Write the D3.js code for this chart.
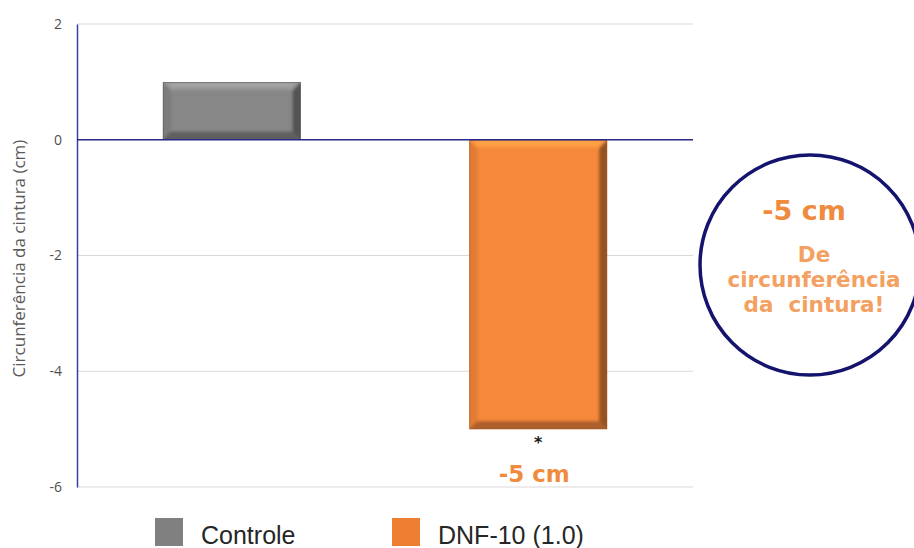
<!DOCTYPE html>
<html><head><meta charset="utf-8">
<script src="https://cdn.jsdelivr.net/npm/d3@7"></script>
<style>
body{margin:0;background:#fff;}
svg{display:block;}
</style></head>
<body>
<svg id="chart" width="914" height="548"></svg>
<script>
// Waist circumference change by group
const categories = ["Controle", "DNF-10 (1.0)"];
const values = [1, -5];
const yTicks = [2, 0, -2, -4, -6];
const barColors = ["#878787", "#f5883a"];
const legendColors = ["#808080", "#ed7d31"];
const calloutLines = ["De", "circunferência", "da  cintura!"];

const svg = d3.select("#chart");
const margin = {left: 77, right: 221, top: 24, bottom: 61};
const W = 914, H = 548;

const x = d3.scaleBand().domain(categories).range([margin.left, W - margin.right]).paddingInner(0.55).paddingOuter(0.28);
const y = d3.scaleLinear().domain([-6, 2]).range([H - margin.bottom, margin.top]);

const defs = svg.append("defs");
defs.append("filter").attr("id", "soft").attr("x", "-10%").attr("y", "-10%").attr("width", "120%").attr("height", "120%")
  .append("feGaussianBlur").attr("stdDeviation", 1.6);

// gridlines
svg.append("g").selectAll("line").data(yTicks).join("line")
  .attr("x1", margin.left).attr("x2", W - margin.right)
  .attr("y1", d => y(d)).attr("y2", d => y(d))
  .attr("stroke", "#d9d9d9").attr("stroke-width", 1);

// y axis
const yAxis = d3.axisLeft(y).tickValues(yTicks).tickSize(0).tickPadding(15).tickFormat(d => String(d));
const ga = svg.append("g").attr("transform", `translate(${margin.left},0)`).call(yAxis);
ga.select(".domain").attr("stroke", "#3c3c9c").attr("stroke-width", 1.5);
ga.selectAll("text").attr("fill", "#505050").style("font-family", "'Open Sans', sans-serif").style("font-size", "14px");

svg.append("text")
  .attr("transform", `translate(25,${(y(2) + y(-6)) / 2 + 3}) rotate(-90)`)
  .attr("text-anchor", "middle")
  .attr("fill", "#595959")
  .style("font-family", "'Open Sans', sans-serif").style("font-size", "17px")
  .text("Circunferência da cintura (cm)");

// beveled bars
const bars = svg.append("g");
categories.forEach((cat, i) => {
  const v = values[i];
  const x0 = x(cat), x1 = x0 + x.bandwidth();
  const y0 = y(Math.max(0, v)), y1 = y(Math.min(0, v));
  const b = 8;
  const c = d3.color(barColors[i]);
  const clipId = "clip" + i;
  defs.append("clipPath").attr("id", clipId)
    .append("rect").attr("x", x0).attr("y", y0).attr("width", x1 - x0).attr("height", y1 - y0);
  const g = bars.append("g").attr("clip-path", `url(#${clipId})`);
  g.append("rect").attr("x", x0).attr("y", y0).attr("width", x1 - x0).attr("height", y1 - y0).attr("fill", c.formatHex());
  const bev = g.append("g").attr("filter", "url(#soft)");
  // top bevel
  bev.append("polygon").attr("points", [[x0-4,y0-4],[x1+4,y0-4],[x1-b,y0+b],[x0+b,y0+b]].join(" "))
    .attr("fill", c.brighter(0.35).formatHex());
  // left bevel
  bev.append("polygon").attr("points", [[x0-4,y0-4],[x0+b,y0+b],[x0+b,y1-b],[x0-4,y1+4]].join(" "))
    .attr("fill", c.darker(0.25).formatHex());
  // right bevel
  bev.append("polygon").attr("points", [[x1+4,y0-4],[x1+4,y1+4],[x1-b,y1-b],[x1-b,y0+b]].join(" "))
    .attr("fill", c.darker(1.4).formatHex());
  // bottom bevel
  bev.append("polygon").attr("points", [[x0-4,y1+4],[x1+4,y1+4],[x1-b,y1-b],[x0+b,y1-b]].join(" "))
    .attr("fill", c.darker(1.0).formatHex());
  // thin highlight just inside the top bevel
  bev.append("line").attr("x1", x0 + b).attr("x2", x1 - b).attr("y1", y0 + 3).attr("y2", y0 + 3)
    .attr("stroke", c.brighter(0.7).formatHex()).attr("stroke-width", 2);
  g.append("rect").attr("x", x0 + 0.5).attr("y", y0 + 0.5).attr("width", x1 - x0 - 1).attr("height", y1 - y0 - 1)
    .attr("fill", "none").attr("stroke", c.darker(1.2).formatHex()).attr("stroke-width", 1).attr("opacity", 0.6);
});

// zero line
svg.append("line").attr("x1", margin.left).attr("x2", W - margin.right)
  .attr("y1", y(0)).attr("y2", y(0)).attr("stroke", "#2a2a8a").attr("stroke-width", 1.5);

// annotations under the second bar
const cx2 = x(categories[1]) + x.bandwidth() / 2;
svg.append("text").attr("x", cx2).attr("y", y(values[1]) + 19).attr("text-anchor", "middle")
  .attr("fill", "#1a1a1a").style("font-family", "'DejaVu Sans', sans-serif").style("font-size", "16px").style("font-weight", "bold").text("*");
svg.append("text").attr("x", cx2 - 4).attr("y", y(values[1]) + 53).attr("text-anchor", "middle")
  .attr("fill", "#f08a3c").style("font-family", "'DejaVu Sans', sans-serif").style("font-size", "23px").style("font-weight", "bold")
  .text(`${values[1]} cm`);

// callout circle
const cg = svg.append("g");
cg.append("circle").attr("cx", 810).attr("cy", 265).attr("r", 110)
  .attr("fill", "#fff").attr("stroke", "#14146e").attr("stroke-width", 3.5);
cg.append("text").attr("x", 804).attr("y", 220).attr("text-anchor", "middle")
  .attr("fill", "#f08a3c").style("font-family", "'DejaVu Sans', sans-serif").style("font-size", "27px").style("font-weight", "bold")
  .text(`${values[1]} cm`);
cg.selectAll("text.l").data(calloutLines).join("text").attr("class", "l")
  .attr("x", 814).attr("y", (d, i) => 262 + i * 25).attr("text-anchor", "middle")
  .attr("fill", "#f4a060").style("font-family", "'DejaVu Sans', sans-serif").style("font-size", "21.5px").style("font-weight", "bold")
  .attr("xml:space", "preserve").style("white-space", "pre")
  .text(d => d);

// legend
const legendX = [155, 392];
const lg = svg.append("g");
categories.forEach((cat, i) => {
  lg.append("rect").attr("x", legendX[i]).attr("y", 518).attr("width", 28).attr("height", 28).attr("fill", legendColors[i]);
  lg.append("text").attr("x", legendX[i] + 46).attr("y", 544)
    .attr("fill", "#262626").style("font-family", "'Liberation Sans', Arial, sans-serif").style("font-size", "25px")
    .text(cat);
});
</script>
</body></html>
